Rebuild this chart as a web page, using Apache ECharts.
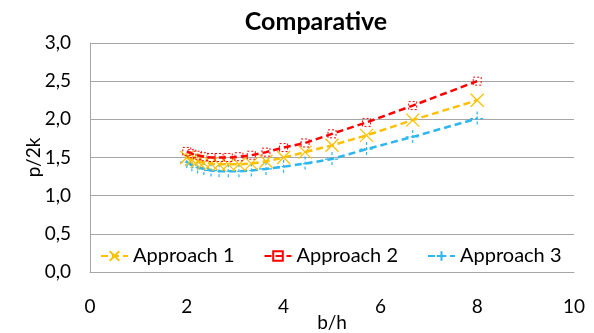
<!DOCTYPE html>
<html>
<head>
<meta charset="utf-8">
<script src="https://cdn.jsdelivr.net/npm/echarts@6/dist/echarts.min.js"></script>
<style>html,body{margin:0;padding:0;background:#fff;}#c{width:594px;height:333px;}</style>
</head>
<body>
<div id="c"></div>
<script>
var bh = [2.0, 2.105, 2.222, 2.353, 2.5, 2.667, 2.857, 3.077, 3.333, 3.636, 4.0, 4.444, 5.0, 5.714, 6.667, 8.0];
var approach1 = [1.50, 1.47, 1.45, 1.43, 1.42, 1.41, 1.41, 1.41, 1.42, 1.45, 1.50, 1.57, 1.66, 1.79, 1.99, 2.25];
var approach2 = [1.58, 1.55, 1.53, 1.51, 1.50, 1.50, 1.50, 1.51, 1.53, 1.57, 1.63, 1.69, 1.81, 1.96, 2.18, 2.50];
var approach3 = [1.44, 1.40, 1.37, 1.35, 1.33, 1.32, 1.32, 1.32, 1.33, 1.35, 1.38, 1.42, 1.48, 1.61, 1.77, 2.01];
var seriesNames = ['Approach 1', 'Approach 2', 'Approach 3'];
var xTicks = [0, 2, 4, 6, 8, 10];

function pairs(ys) { return bh.map(function (x, i) { return [x, ys[i]]; }); }

var FONT = 'Lato';
var chart = echarts.init(document.getElementById('c'), null, {renderer: 'canvas'});
var dash = [7, 4];
chart.setOption({
  animation: false,
  title: {
    text: 'Comparative', left: 311, top: 4, textAlign: 'center',
    textStyle: {fontFamily: FONT, fontWeight: 'bold', fontSize: 25, color: '#000'}
  },
  grid: {left: 90, right: 20, top: 43, bottom: 61, containLabel: false, outerBoundsMode: 'none'},
  legend: {
    data: seriesNames, left: 95, top: 241, itemWidth: 27, itemHeight: 12, itemGap: 29,
    textStyle: {fontFamily: FONT, fontSize: 20, color: '#000'}
  },
  xAxis: {
    type: 'value', min: 0, max: 10, interval: 2,
    name: 'b/h', nameLocation: 'middle', nameGap: 41, nameMoveOverlap: false,
    nameTextStyle: {fontFamily: FONT, fontSize: 19, color: '#000'},
    axisLine: {show: true, lineStyle: {color: '#A6A6A6', width: 1}},
    axisTick: {show: false},
    splitLine: {show: false},
    axisLabel: {fontFamily: FONT, fontSize: 19, color: '#000', margin: 25,
      formatter: function (v) { return xTicks.indexOf(v) >= 0 ? String(v) : ''; }}
  },
  yAxis: {
    type: 'value', min: 0, max: 3, interval: 0.5,
    name: 'p/2k', nameLocation: 'middle', nameGap: 47, nameRotate: 90, nameMoveOverlap: false,
    nameTextStyle: {fontFamily: FONT, fontSize: 19, color: '#000'},
    axisLine: {show: true, lineStyle: {color: '#A6A6A6', width: 1}},
    axisTick: {show: false},
    splitLine: {show: true, lineStyle: {color: '#A6A6A6', width: 1}},
    axisLabel: {fontFamily: FONT, fontSize: 19, color: '#000', margin: 19,
      formatter: function (v) { return v.toFixed(1).replace('.', ','); }}
  },
  series: [
    {
      name: seriesNames[0], type: 'line', data: pairs(approach1),
      symbol: 'path://M0,0L10,10M10,0L0,10', symbolSize: 13,
      itemStyle: {color: 'rgba(0,0,0,0)', borderColor: '#FFC000', borderWidth: 1.3},
      lineStyle: {color: '#FFC000', width: 2.5, type: dash}, z: 3
    },
    {
      name: seriesNames[1], type: 'line', data: pairs(approach2),
      symbol: 'rect', symbolSize: 8,
      itemStyle: {color: 'rgba(255,255,255,0)', borderColor: '#FF0000', borderWidth: 1, borderType: [2, 2]},
      lineStyle: {color: '#FF0000', width: 2.5, type: dash}, z: 4
    },
    {
      name: seriesNames[2], type: 'line', data: pairs(approach3),
      symbol: 'path://M5,0L5,10M0,5L10,5', symbolSize: 14,
      itemStyle: {color: 'rgba(0,0,0,0)', borderColor: '#2DB6F0', borderWidth: 1.2, borderType: [3, 2]},
      lineStyle: {color: '#2DB6F0', width: 2.5, type: dash}, z: 2
    }
  ]
});
</script>
</body>
</html>
